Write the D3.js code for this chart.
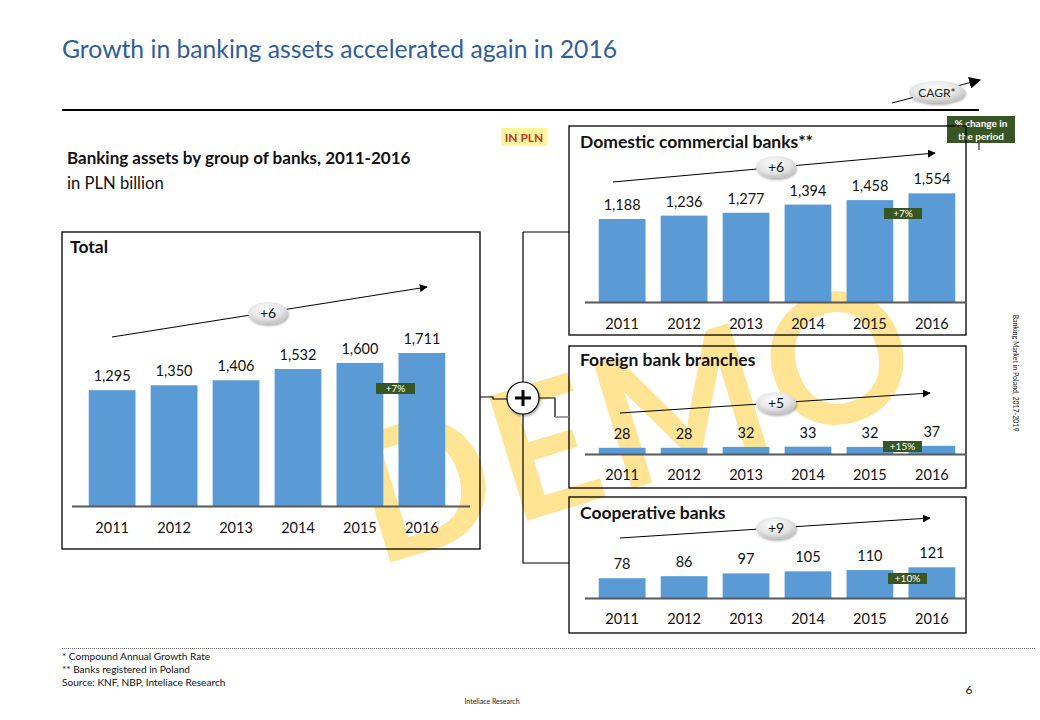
<!DOCTYPE html>
<html>
<head>
<meta charset="utf-8">
<script src="https://cdn.jsdelivr.net/npm/d3@7"></script>
<style>
  html, body { margin: 0; padding: 0; background: #fff; }
  svg { display: block; font-family: Lato, "Open Sans", sans-serif; }
</style>
</head>
<body>
<svg id="chart" width="1040" height="720"></svg>
<script>
// ---------- DATA ----------
const years = ["2011", "2012", "2013", "2014", "2015", "2016"];
const totalValues = [1295, 1350, 1406, 1532, 1600, 1711];
const domesticValues = [1188, 1236, 1277, 1394, 1458, 1554];
const foreignValues = [28, 28, 32, 33, 32, 37];
const cooperativeValues = [78, 86, 97, 105, 110, 121];
const panelTitles = ["Total", "Domestic commercial banks**", "Foreign bank branches", "Cooperative banks"];
const cagrLabels = ["+6", "+6", "+5", "+9"];
const changeLabels = ["+7%", "+7%", "+15%", "+10%"];
const footnotes = ["* Compound Annual Growth Rate", "** Banks registered in Poland", "Source: KNF, NBP, Inteliace Research"];

// ---------- LAYOUT ----------
const svg = d3.select("#chart");
const fmt = d3.format(",");
const BAR = "#5B9BD5", GREEN = "#375623", AXIS = "#595959";

// defs
const defs = svg.append("defs");
const grad = defs.append("radialGradient").attr("id", "pill").attr("cx", "45%").attr("cy", "35%").attr("r", "70%");
grad.append("stop").attr("offset", "0%").attr("stop-color", "#ffffff");
grad.append("stop").attr("offset", "60%").attr("stop-color", "#e4e4e4");
grad.append("stop").attr("offset", "100%").attr("stop-color", "#b9b9b9");
const shadow = defs.append("filter").attr("id", "sh").attr("x", "-30%").attr("y", "-30%").attr("width", "160%").attr("height", "180%");
shadow.append("feDropShadow").attr("dx", 1).attr("dy", 2).attr("stdDeviation", 1.2).attr("flood-color", "#000").attr("flood-opacity", 0.3);
defs.append("marker").attr("id", "arr").attr("viewBox", "0 0 10 10").attr("refX", 9).attr("refY", 5)
  .attr("markerWidth", 8).attr("markerHeight", 8).attr("markerUnits", "userSpaceOnUse").attr("orient", "auto")
  .append("path").attr("d", "M0,0 L10,5 L0,10 Z").attr("fill", "#000");
defs.append("marker").attr("id", "arr2").attr("viewBox", "0 0 10 10").attr("refX", 9).attr("refY", 5)
  .attr("markerWidth", 12).attr("markerHeight", 12).attr("markerUnits", "userSpaceOnUse").attr("orient", "auto")
  .append("path").attr("d", "M0,0 L10,5 L0,10 Z").attr("fill", "#000");

// Watermark (behind everything)
svg.append("text")
  .attr("transform", "translate(635,420) rotate(-17)")
  .attr("text-anchor", "middle").attr("dy", "0.36em")
  .attr("font-size", 180).attr("font-weight", 700)
  .attr("fill", "#FFD966").attr("fill-opacity", 0.7)
  .attr("font-family", "Lato, sans-serif")
  .attr("letter-spacing", 6)
  .text("DEMO");

// Title
svg.append("text").attr("x", 62).attr("y", 58).attr("font-size", 24.7).attr("fill", "#2E5E9E")
  .text("Growth in banking assets accelerated again in 2016");
svg.append("line").attr("x1", 62).attr("x2", 979).attr("y1", 110).attr("y2", 110).attr("stroke", "#000").attr("stroke-width", 2);

// CAGR legend
svg.append("line").attr("x1", 892).attr("y1", 103).attr("x2", 980).attr("y2", 80)
  .attr("stroke", "#000").attr("stroke-width", 1).attr("marker-end", "url(#arr2)");
svg.append("ellipse").attr("cx", 937).attr("cy", 92).attr("rx", 28).attr("ry", 11).attr("fill", "url(#pill)").attr("filter", "url(#sh)");
svg.append("text").attr("x", 937).attr("y", 96.5).attr("text-anchor", "middle").attr("font-size", 12).attr("fill", "#222").text("CAGR*");
svg.append("line").attr("x1", 979).attr("x2", 979).attr("y1", 142).attr("y2", 150).attr("stroke", "#000");
svg.append("rect").attr("x", 947).attr("y", 116).attr("width", 68).attr("height", 27).attr("fill", GREEN);
svg.append("text").attr("x", 981).attr("y", 127).attr("text-anchor", "middle").attr("font-size", 10).attr("font-weight", 700).attr("fill", "#fff").text("% change in");
svg.append("text").attr("x", 981).attr("y", 139.5).attr("text-anchor", "middle").attr("font-size", 10).attr("font-weight", 700).attr("fill", "#fff").text("the period");

// IN PLN
svg.append("rect").attr("x", 501).attr("y", 128).attr("width", 46).attr("height", 18).attr("fill", "#FFF59D");
svg.append("text").attr("x", 524).attr("y", 141.5).attr("text-anchor", "middle").attr("font-size", 12).attr("font-weight", 700).attr("fill", "#C0392B").text("IN PLN");

// Subtitle
svg.append("text").attr("x", 67).attr("y", 164).attr("font-size", 17).attr("font-weight", 700).attr("fill", "#111")
  .text("Banking assets by group of banks, 2011-2016");
svg.append("text").attr("x", 67).attr("y", 189).attr("font-size", 16.6).attr("fill", "#111").text("in PLN billion");

// ---------- PANELS ----------
const panels = [
  { values: totalValues, box: [62, 232, 480, 549], title: [70, 253], range: [81, 453], base: 506, top: 353,
    axis: [72, 470], yearY: 533, arrow: [112, 337, 427, 287], pill: [268, 313], chg: [376, 383, 39] },
  { values: domesticValues, box: [569, 126, 966, 335], title: [580, 148], range: [591, 963], base: 302, top: 193.4,
    axis: [585, 965], yearY: 329, arrow: [613, 182, 935, 153], pill: [776, 167], chg: [884, 208, 38] },
  { values: foreignValues, box: [569, 346, 966, 488], title: [580, 366], range: [591, 963], base: 454, top: 445.8,
    axis: [585, 965], yearY: 480, arrow: [620, 413, 930, 393], pill: [776, 403], chg: [883, 441, 39] },
  { values: cooperativeValues, box: [569, 497, 966, 633], title: [580, 519], range: [591, 963], base: 598, top: 567.3,
    axis: [585, 965], yearY: 624, arrow: [620, 538, 930, 518], pill: [776, 528], chg: [888, 573, 39] }
];

panels.forEach((p, i) => {
  const g = svg.append("g");
  g.append("rect").attr("x", p.box[0]).attr("y", p.box[1]).attr("width", p.box[2] - p.box[0]).attr("height", p.box[3] - p.box[1])
    .attr("fill", "none").attr("stroke", "#000").attr("stroke-width", 1.3);
  g.append("text").attr("x", p.title[0]).attr("y", p.title[1]).attr("font-size", 17.5).attr("font-weight", 700).attr("fill", "#111")
    .text(panelTitles[i]);

  const x = d3.scaleBand().domain(years).range(p.range).paddingInner(0.245).paddingOuter(0.125);
  const maxV = d3.max(p.values);
  const y = d3.scaleLinear().domain([0, maxV]).range([p.base, p.top]);

  g.selectAll("rect.bar").data(p.values).join("rect").attr("class", "bar")
    .attr("x", (d, j) => x(years[j])).attr("width", x.bandwidth())
    .attr("y", d => y(d)).attr("height", d => y(0) - y(d)).attr("fill", BAR);

  g.selectAll("text.val").data(p.values).join("text").attr("class", "val")
    .attr("x", (d, j) => x(years[j]) + x.bandwidth() / 2)
    .attr("y", d => y(d) - 9)
    .attr("text-anchor", "middle").attr("font-size", 14.5).attr("fill", "#111")
    .text(d => fmt(d));

  // axis
  const ax = g.append("g").attr("transform", `translate(0,${p.base})`)
    .call(d3.axisBottom(x).tickSize(0).tickPadding(0));
  ax.select(".domain").remove();
  g.append("line").attr("x1", p.axis[0]).attr("x2", p.axis[1]).attr("y1", p.base + 0.5).attr("y2", p.base + 0.5)
    .attr("stroke", AXIS).attr("stroke-width", 2);
  ax.selectAll(".tick text").attr("y", p.yearY - p.base).attr("dy", 0)
    .attr("font-size", 14.5).attr("fill", "#111").attr("font-family", "Lato, sans-serif");

  // CAGR arrow
  g.append("line").attr("x1", p.arrow[0]).attr("y1", p.arrow[1]).attr("x2", p.arrow[2]).attr("y2", p.arrow[3])
    .attr("stroke", "#000").attr("stroke-width", 1).attr("marker-end", "url(#arr)");
  g.append("ellipse").attr("cx", p.pill[0]).attr("cy", p.pill[1]).attr("rx", 20).attr("ry", 11)
    .attr("fill", "url(#pill)").attr("filter", "url(#sh)");
  g.append("text").attr("x", p.pill[0]).attr("y", p.pill[1] + 5).attr("text-anchor", "middle").attr("font-size", 14).attr("fill", "#111")
    .text(cagrLabels[i]);

  // change box
  g.append("rect").attr("x", p.chg[0]).attr("y", p.chg[1]).attr("width", p.chg[2]).attr("height", 11).attr("fill", GREEN);
  g.append("text").attr("x", p.chg[0] + p.chg[2] / 2).attr("y", p.chg[1] + 9).attr("text-anchor", "middle")
    .attr("font-size", 10).attr("fill", "#fff").text(changeLabels[i]);
});

// ---------- CONNECTORS ----------
const conn = svg.append("g").attr("fill", "none").attr("stroke", "#000").attr("stroke-width", 1.2);
conn.append("path").attr("d", "M523,232 H569 M523,232 V563 H569");
conn.append("path").attr("d", "M480,397 H493 V399 H507");
conn.append("path").attr("d", "M539,398 H555 V417");
svg.append("line").attr("x1", 555).attr("x2", 569).attr("y1", 417).attr("y2", 417).attr("stroke", "#808080").attr("stroke-width", 1.5);
svg.append("circle").attr("cx", 523).attr("cy", 398).attr("r", 16).attr("fill", "#fff").attr("stroke", "#000").attr("stroke-width", 1.2)
  .attr("filter", "url(#sh)");
svg.append("path").attr("d", "M515,398 H531 M523,390 V406").attr("stroke", "#000").attr("stroke-width", 3);

// side text
svg.append("text").attr("transform", "translate(1013,373) rotate(90)").attr("text-anchor", "middle")
  .attr("font-size", 7).attr("fill", "#222").text("Banking Market in Poland, 2017-2019");

// ---------- FOOTER ----------
svg.append("line").attr("x1", 62).attr("x2", 1036).attr("y1", 648.5).attr("y2", 648.5)
  .attr("stroke", "#666").attr("stroke-width", 1).attr("stroke-dasharray", "1,1");
svg.selectAll("text.fn").data(footnotes).join("text").attr("class", "fn")
  .attr("x", 62).attr("y", (d, i) => 660 + i * 13).attr("font-size", 10.1).attr("fill", "#111").text(d => d);
svg.append("text").attr("x", 492).attr("y", 704).attr("text-anchor", "middle").attr("font-size", 7).attr("fill", "#222").text("Inteliace Research");
svg.append("text").attr("x", 969).attr("y", 694).attr("text-anchor", "middle").attr("font-size", 12).attr("fill", "#111").text("6");
</script>
</body>
</html>
